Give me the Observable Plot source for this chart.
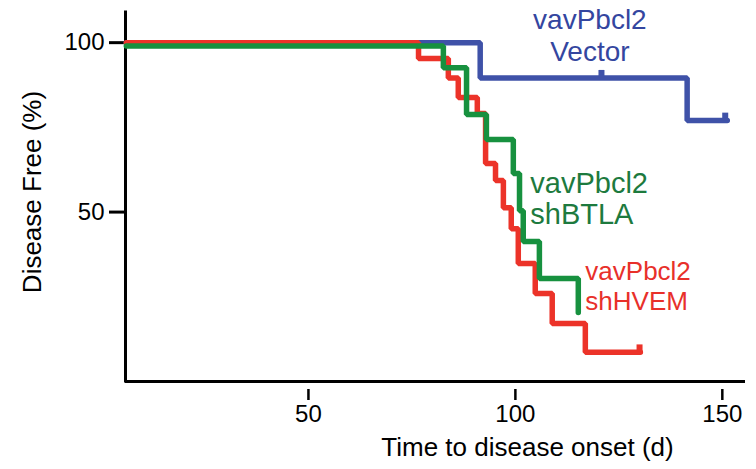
<!DOCTYPE html>
<html>
<head>
<meta charset="utf-8">
<script src="https://cdn.jsdelivr.net/npm/d3@7"></script>
<script src="https://cdn.jsdelivr.net/npm/@observablehq/plot@0.6"></script>
<style>
  html, body { margin: 0; padding: 0; background: #fff; }
  #chart { width: 756px; height: 469px; }
</style>
</head>
<body>
<div id="chart"></div>
<script>
// ---- data ----
const xTicks = [50, 100, 150];
const yTicks = [50, 100];

const vectorDays = [6, 91.5, 141.5, 151.2];
const vectorPct  = [100, 89.6, 77.0, 77.0];

const hvemDays = [6, 76.6, 83.8, 86.2, 90.8, 92.8, 95.2, 97.1, 99.0, 100.7, 104.8, 108.9, 116.9, 130.2];
const hvemPct  = [100, 95.3, 89.6, 83.8, 79.1, 64.3, 59.3, 51.3, 45.1, 34.8, 26.0, 17.1, 8.6, 8.6];

const btlaDays = [6, 82.6, 88.2, 93.0, 99.5, 101.0, 101.9, 105.8, 115.2];
const btlaPct  = [99, 92.6, 78.8, 71.4, 61.4, 50.4, 41.3, 30.4, 20.4];

const censorVectorDays = [120.8, 150.7];
const censorVectorPct  = [89.6, 77.0];
const censorHvemDays = [130.0];
const censorHvemPct  = [8.6];

const seriesLabels = ["vavPbcl2\nVector", "vavPbcl2\nshBTLA", "vavPbcl2\nshHVEM"];
const labelDays = [118.0, 103.6, 116.9];
const labelPct  = [102.4, 54.0, 28.4];

const xTitle = "Time to disease onset (d)";
const yTitle = "Disease Free (%)";

const xDomain = [5.8, 155.6];
const yDomain = [0, 108.9];

// ---- build tables ----
const rows = (days, pct) => days.map((d, i) => ({day: d, pct: pct[i]}));
const vector = rows(vectorDays, vectorPct);
const hvem = rows(hvemDays, hvemPct);
const btla = rows(btlaDays, btlaPct);
const censorVector = rows(censorVectorDays, censorVectorPct);
const censorHvem = rows(censorHvemDays, censorHvemPct);
const labels = seriesLabels.map((t, i) => ({text: t, day: labelDays[i], pct: labelPct[i]}));

const BLUE = "#3f52a8", RED = "#ec3329", GREEN = "#17913f";
const BLUE_T = "#34469f", RED_T = "#e8302a", GREEN_T = "#1d7a3e";

const chart = Plot.plot({
  width: 756,
  height: 469,
  marginLeft: 125,
  marginRight: 11,
  marginTop: 12,
  marginBottom: 88,
  x: {domain: xDomain},
  y: {domain: yDomain},
  style: {fontFamily: "'Liberation Sans', Arial, sans-serif", background: "#fff", color: "#000"},
  marks: [
    Plot.axisY({ticks: yTicks, tickSize: 16, tickPadding: 5, fontSize: 24, strokeWidth: 3, label: null, tickFormat: d => String(d)}),
    Plot.axisX({ticks: xTicks, tickSize: 11, tickPadding: 4, dy: 8, fontSize: 24, strokeWidth: 2.5, label: null, tickFormat: d => String(d)}),
    Plot.ruleX([xDomain[0]], {stroke: "#000", strokeWidth: 3, strokeLinecap: "square"}),
    Plot.ruleY([yDomain[0]], {stroke: "#000", strokeWidth: 3}),
    Plot.line(vector, {x: "day", y: "pct", curve: "step-after", stroke: BLUE, strokeWidth: 5.5, strokeLinejoin: "miter"}),
    Plot.ruleX(censorVector, {x: "day", y1: "pct", y2: d => d.pct + 2.2, stroke: BLUE, strokeWidth: 6}),
    Plot.line(hvem, {x: "day", y: "pct", curve: "step-after", stroke: RED, strokeWidth: 5.5, strokeLinejoin: "miter"}),
    Plot.ruleX(censorHvem, {x: "day", y1: "pct", y2: d => d.pct + 2.2, stroke: RED, strokeWidth: 6}),
    Plot.line(btla, {x: "day", y: "pct", curve: "step-after", stroke: GREEN, strokeWidth: 5.5, strokeLinejoin: "miter", strokeLinecap: "round"}),
    Plot.text([labels[0]], {x: "day", y: "pct", text: "text", fill: BLUE_T, fontSize: 28, lineHeight: 1.15, textAnchor: "middle", lineAnchor: "middle"}),
    Plot.text([labels[1]], {x: "day", y: "pct", text: "text", fill: GREEN_T, fontSize: 29, lineHeight: 1.05, textAnchor: "start", lineAnchor: "middle"}),
    Plot.text([labels[2]], {x: "day", y: "pct", text: "text", fill: RED_T, fontSize: 26, lineHeight: 1.15, textAnchor: "start", lineAnchor: "middle"}),
    Plot.text([xTitle], {text: d => d, frameAnchor: "bottom", dx: 92, dy: 66, fontSize: 26, textAnchor: "middle", lineAnchor: "middle", fill: "#000"}),
    Plot.text([yTitle], {text: d => d, frameAnchor: "left", rotate: -90, dx: -93, dy: -5, fontSize: 26, textAnchor: "middle", lineAnchor: "middle", fill: "#000"})
  ]
});
document.getElementById("chart").appendChild(chart);
</script>
</body>
</html>
